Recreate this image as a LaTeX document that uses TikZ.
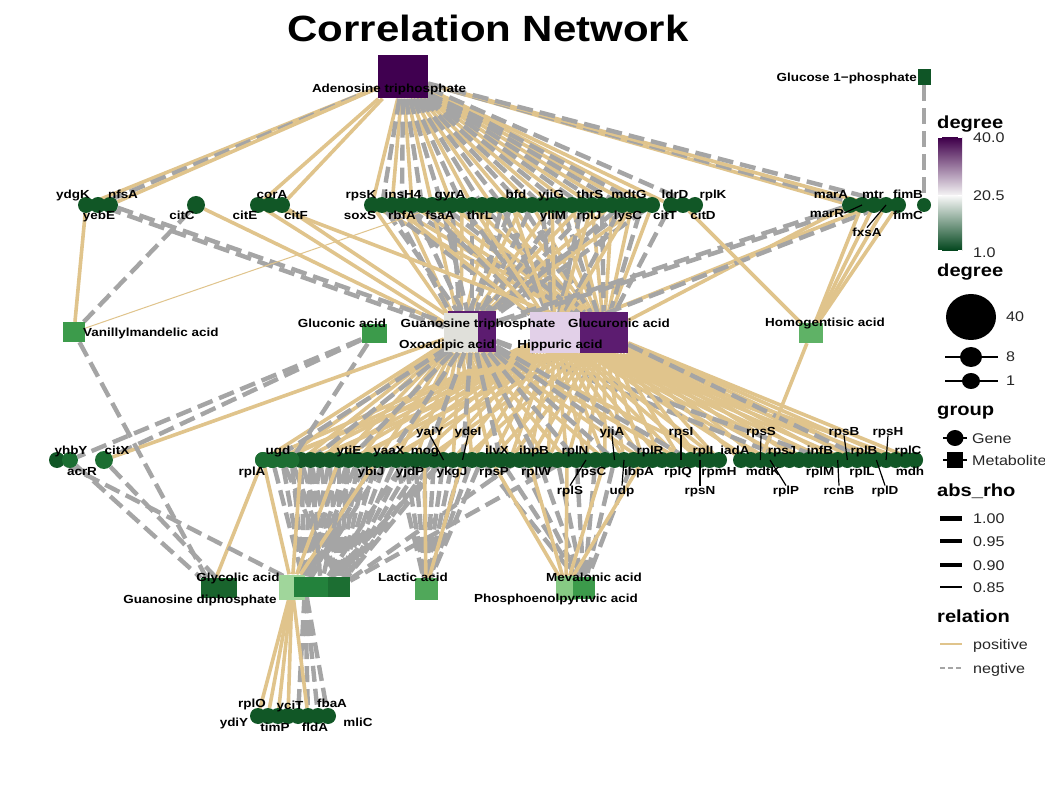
\documentclass[tikz,border=0pt]{standalone}
\usepackage{fontspec}
\setmainfont{Liberation Sans}[FakeStretch=1.15]
\pgfdeclarelayer{bglayer}
\pgfdeclarelayer{edgelayer}
\pgfsetlayers{bglayer,edgelayer,main}
\definecolor{postan}{RGB}{224,196,140}
\definecolor{neggrey}{RGB}{165,165,165}
\definecolor{genegreen}{RGB}{17,87,38}
\definecolor{genegreenb}{RGB}{28,110,50}
\definecolor{atpc}{RGB}{64,0,80}
\definecolor{purp}{RGB}{92,28,112}
\definecolor{gtpc}{RGB}{224,224,218}
\definecolor{hipc}{RGB}{226,208,232}
\definecolor{medgreen}{RGB}{60,155,75}
\definecolor{homc}{RGB}{95,178,102}
\definecolor{lacc}{RGB}{80,168,90}
\definecolor{glyc}{RGB}{25,100,45}
\definecolor{gdpac}{RGB}{160,214,155}
\definecolor{gdpbc}{RGB}{35,130,60}
\definecolor{mevc}{RGB}{135,202,132}
\definecolor{g1pc}{RGB}{15,85,38}
\newcommand\labfont{\fontsize{11.7}{13}\selectfont\bfseries}
\tikzset{
  gene/.style={circle, fill=genegreen, minimum size=16pt, inner sep=0pt},
  met/.style={rectangle, inner sep=0pt},
  lab/.style={font=\labfont, inner sep=0pt, text height=8.5pt, text depth=0pt},
  legtitle/.style={font=\fontsize{17.5}{19}\selectfont\bfseries, inner sep=0pt, anchor=west, text height=12pt, text depth=0pt},
  legtxt/.style={font=\fontsize{14}{16}\selectfont, text=black!85, inner sep=0pt, anchor=west, text height=10pt, text depth=0pt},
  posedge/.style={draw=postan, line width=3.6pt},
  negedge/.style={draw=neggrey, line width=4.4pt, dash pattern=on 16pt off 7pt},
  leader/.style={draw=black, line width=1.2pt},
}
\begin{document}
\begin{tikzpicture}[x=1pt,y=-1pt]
\useasboundingbox (0,0) rectangle (1045,786);
\begin{pgfonlayer}{bglayer}
\fill[white] (0,0) rectangle (1045,786);
\end{pgfonlayer}

% ---------------- metabolites ----------------
\node[met, fill=atpc, minimum width=50pt, minimum height=43pt] (atp) at (403,77) {};
\node[met, fill=g1pc, minimum width=13pt, minimum height=16pt] (g1p) at (924,77) {};
\node[met, fill=medgreen, minimum width=22pt, minimum height=20pt] (van) at (74,332) {};
\node[met, fill=medgreen, minimum width=25pt, minimum height=19pt] (glcn) at (374,334) {};
\node[met, fill=purp, minimum width=48pt, minimum height=41pt] (oxo) at (472,332) {};
\node[met, fill=gtpc, minimum width=34pt, minimum height=39pt] (gtp) at (461,333) {};
\node[met, fill=hipc, minimum width=50pt, minimum height=41pt] (hip) at (555,333) {};
\node[met, fill=purp, minimum width=48pt, minimum height=41pt] (glcu) at (604,333) {};
\node[met, fill=homc, minimum width=24pt, minimum height=20pt] (hom) at (811,333) {};
\node[met, fill=glyc, minimum width=22pt, minimum height=20pt] (gly1) at (212,588) {};
\node[met, fill=glyc, minimum width=22pt, minimum height=20pt] (gly2) at (226,588) {};
\node[met, fill=gdpac, minimum width=26pt, minimum height=25pt] (gdpa) at (292,587) {};
\node[met, fill=gdpbc, minimum width=22pt, minimum height=20pt] (gdpb) at (305,587) {};
\node[met, fill=gdpbc, minimum width=22pt, minimum height=20pt] (gdpc) at (321,587) {};
\node[met, fill=genegreenb, minimum width=22pt, minimum height=20pt] (gdpd) at (339,587) {};
\node[met, fill=lacc, minimum width=23pt, minimum height=22pt] (lac) at (426,589) {};
\node[met, fill=mevc, minimum width=20pt, minimum height=24pt] (mev) at (566,588) {};
\node[met, fill=medgreen, minimum width=22pt, minimum height=22pt] (pep) at (584,588) {};

% ---------------- genes: top row ----------------
\foreach \x [count=\i] in {86,98,110} \node[gene] (ta\i) at (\x,205) {};
\node[gene, minimum size=18pt] (tc) at (196,205) {};
\foreach \x [count=\i] in {258,270,282} \node[gene] (tb\i) at (\x,205) {};
\foreach \i in {1,...,29} \node[gene] (td\i) at ({372+10*(\i-1)},205) {};
\foreach \x [count=\i] in {671,683,695} \node[gene] (te\i) at (\x,205) {};
\foreach \x [count=\i] in {850,862,874,886,898} \node[gene] (tf\i) at (\x,205) {};
\node[gene, minimum size=14pt] (tg) at (924,205) {};

% ---------------- genes: middle row ----------------
\node[gene] (ma0) at (57,460) {};
\node[gene, fill=genegreenb] (ma1) at (70,460) {};
\node[gene, minimum size=18pt, fill=genegreenb] (citx) at (104,460) {};
\foreach \i in {1,...,49} \node[gene] (mb\i) at ({263+9.5*(\i-1)},460) {};
\foreach \i in {1,2,3,4} \node[gene, fill=genegreenb] (mbx\i) at ({263+9.5*(\i-1)},460) {};
\foreach \i in {1,...,19} \node[gene] (mc\i) at ({741+9.67*(\i-1)},460) {};

% ---------------- genes: bottom cluster ----------------
\foreach \i in {1,...,8} \node[gene] (bc\i) at ({258+10*(\i-1)},716) {};

% ---------------- edges ----------------
\begin{pgfonlayer}{edgelayer}
% ATP fan
\foreach \k in {1,3,...,29} \draw[posedge] (atp) -- (td\k);
\foreach \k in {2,4,...,28} \draw[negedge] (atp) -- (td\k);
\draw[posedge] (atp) -- (ta1); \draw[negedge] (atp) -- (ta2); \draw[posedge] (atp) -- (ta3);
\draw[posedge] (atp) -- (tb1); \draw[posedge] (atp) -- (tb3);
\draw[posedge] (atp) -- (te1); \draw[negedge] (atp) -- (te3);
\draw[posedge] (atp) -- (tf1); \draw[negedge] (atp) -- (tf2); \draw[posedge] (atp) -- (tf3); \draw[negedge] (atp) -- (tf5);
\draw[negedge] (g1p) -- (tg);
% top row to middle hubs
\foreach \k in {1,3,...,29} \draw[posedge] (td\k) -- (glcu);
\foreach \k in {4,8,...,28} \draw[negedge] (td\k) -- (glcu);
\foreach \k in {1,4,...,28} \draw[posedge] (td\k) -- (gtp);
\foreach \k in {3,9,...,27} \draw[negedge] (td\k) -- (gtp);
\foreach \k in {2,5,...,29} \draw[negedge] (td\k) -- (oxo);
\foreach \k in {2,6,...,26} \draw[negedge] (td\k) -- (hip);
\foreach \k in {3,7,...,27} \draw[posedge] (td\k) -- (hip);
\draw[posedge] (tb1) -- (gtp); \draw[posedge] (tb3) -- (oxo); \draw[posedge] (tb2) -- (glcu);
\draw[posedge] (tc) -- (gtp); \draw[negedge] (tc) -- (van);
\draw[posedge] (ta1) -- (van); \draw[negedge] (ta3) -- (oxo); \draw[negedge] (ta2) -- (gtp);
\draw[posedge, line width=1pt] (van) -- (td8);
\draw[negedge] (tf1) -- (gtp); \draw[negedge] (tf2) -- (oxo); \draw[posedge] (tf1) -- (glcu);
\draw[posedge] (tf3) -- (hip); \draw[negedge] (tf4) -- (hip);
\foreach \k in {2,3,4,5} \draw[posedge] (tf\k) -- (hom);
\draw[posedge] (te2) -- (hom); \draw[negedge] (te1) -- (glcu);
% middle hubs to middle row
\foreach \k in {1,3,...,19} \draw[posedge] (glcu) -- (mc\k);
\foreach \k in {2,4,...,18} \draw[posedge] (hip) -- (mc\k);
\draw[negedge] (glcu) -- (mc14); \draw[negedge] (oxo) -- (mc6); \draw[negedge] (oxo) -- (mc10);
\foreach \k in {25,27,...,49} \draw[posedge] (glcu) -- (mb\k);
\foreach \k in {2,6,...,22} \draw[posedge] (glcu) -- (mb\k);
\foreach \k in {1,5,...,49} \draw[posedge] (hip) -- (mb\k);
\foreach \k in {3,7,...,47} \draw[posedge] (hip) -- (mb\k);
\foreach \k in {1,3,...,31} \draw[posedge] (gtp) -- (mb\k);
\foreach \k in {33,37,...,49} \draw[posedge] (gtp) -- (mb\k);
\foreach \k in {2,6,...,30} \draw[negedge] (oxo) -- (mb\k);
\foreach \k in {34,38,...,46} \draw[negedge] (oxo) -- (mb\k);
\draw[negedge] (glcn) -- (citx); \draw[negedge] (glcn) -- (ma1); \draw[negedge] (glcn) -- (mb4);
\draw[posedge] (citx) -- (gtp);
\draw[posedge] (hom) -- (mc3);
% middle row to bottom metabolites
\foreach \k in {2,...,14} \draw[negedge] (mb\k) -- (gdpb);
\foreach \k in {3,...,20} \draw[negedge] (mb\k) -- (gdpd);
\foreach \k in {1,5,9,13} \draw[posedge] (mb\k) -- (gdpa);
\foreach \k in {6,10,16,20} \draw[negedge] (mb\k) -- (gdpc);
\draw[negedge] (mb28) -- (gdpd); \draw[negedge] (mb33) -- (gdpd);
\draw[posedge] (mb1) -- (gly1); \draw[negedge] (ma1) -- (gly1); \draw[negedge] (ma0) -- (gdpb);
\draw[negedge] (citx) -- (gly2); \draw[negedge] (van) -- (gly1);
\foreach \k in {15,...,24} \draw[negedge] (mb\k) -- (lac);
\draw[posedge] (mb18) -- (lac); \draw[posedge] (mb22) -- (lac);
\foreach \k in {24,26,...,40} \draw[negedge] (mb\k) -- (pep);
\foreach \k in {25,29,...,41} \draw[posedge] (mb\k) -- (mev);
% GDP to bottom cluster
\foreach \k in {1,...,4} \draw[posedge] (gdpa) -- (bc\k);
\foreach \k in {5,...,8} \draw[negedge] (gdpb) -- (bc\k);
\draw[posedge] (gdpa) -- (bc6);
\end{pgfonlayer}

% ---------------- labels ----------------
\node[font=\fontsize{36.5}{40}\selectfont\bfseries, inner sep=0pt] (title) at (488,28) {Correlation Network};

\node[lab] (latp) at (389,88) {Adenosine triphosphate};
\node[lab, anchor=east] (lg1p) at (917,77) {Glucose 1−phosphate};
\node[lab, anchor=west] (lvan) at (83,332) {Vanillylmandelic acid};
\node[lab] (lglcn) at (342,323) {Gluconic acid};
\node[lab] (lgtp) at (478,323) {Guanosine triphosphate};
\node[lab] (lglcu) at (619,323) {Glucuronic acid};
\node[lab] (loxo) at (447,344) {Oxoadipic acid};
\node[lab] (lhip) at (560,344) {Hippuric acid};
\node[lab] (lhom) at (825,322) {Homogentisic acid};
\node[lab] (lgly) at (238,577) {Glycolic acid};
\node[lab] (lgdp) at (200,599) {Guanosine diphosphate};
\node[lab] (llac) at (413,577) {Lactic acid};
\node[lab] (lmev) at (594,577) {Mevalonic acid};
\node[lab] (lpep) at (556,598) {Phosphoenolpyruvic acid};

\foreach \t/\x [count=\i] in {ydgK/73, nfsA/123, corA/272, rpsK/361, insH4/403, gyrA/450, bfd/516, yjiG/551, thrS/590, mdtG/629, ldrD/675, rplK/713, marA/831, mtr/873, fimB/908}
  \node[lab] (lta\i) at (\x,194) {\t};
\foreach \t/\x [count=\i] in {yebE/99, citC/182, citE/245, citF/296, soxS/360, rbfA/402, fsaA/440, thrL/480, yliM/553, rplJ/589, lysC/628, citT/665, citD/703, fimC/908}
  \node[lab] (ltb\i) at (\x,215) {\t};
\node[lab] (lmarR) at (827,213) {marR};
\node[lab] (lfxsA) at (867,232) {fxsA};

\foreach \t/\x [count=\i] in {yhbY/71, citX/117, ugd/278, ytiE/349, yaaX/389, mog/425, ilvX/497, ibpB/534, rplN/575, rplR/650, rplI/703, iadA/735, rpsJ/782, infB/820, rplB/864, rplC/908}
  \node[lab] (lma\i) at (\x,450) {\t};
\foreach \t/\x [count=\i] in {acrR/82, rplA/252, ybiJ/371, yjdP/410, ykgJ/452, rpsP/494, rplW/536, rpsC/591, ibpA/639, rplQ/678, rpmH/719, mdtK/763, rplM/820, rplL/862, mdh/910}
  \node[lab] (lmb\i) at (\x,471) {\t};
\node[lab] (lyaiY) at (430,431) {yaiY};
\node[lab] (lydeI) at (468,431) {ydeI};
\node[lab] (lyjiA) at (612,431) {yjiA};
\node[lab] (lrpsI) at (681,431) {rpsI};
\node[lab] (lrpsS) at (761,431) {rpsS};
\node[lab] (lrpsB) at (844,431) {rpsB};
\node[lab] (lrpsH) at (888,431) {rpsH};
\node[lab] (lrplS) at (570,490) {rplS};
\node[lab] (ludp) at (622,490) {udp};
\node[lab] (lrpsN) at (700,490) {rpsN};
\node[lab] (lrplP) at (786,490) {rplP};
\node[lab] (lrcnB) at (839,490) {rcnB};
\node[lab] (lrplD) at (885,490) {rplD};

\foreach \t/\x/\y [count=\i] in {rplO/252/703, yciT/290/705, fbaA/332/703, ydiY/234/722, timP/275/727, fldA/315/727, mliC/358/722}
  \node[lab] (lbc\i) at (\x,\y) {\t};

% leaders
\draw[leader] (lyaiY.south) -- (mb20.center);
\draw[leader] (lydeI.south) -- (mb22.center);
\draw[leader] (lyjiA.south) -- (mb38.center);
\draw[leader] (lrpsI.south) -- (mb45.center);
\draw[leader] (lrplS.north) -- (mb35.center);
\draw[leader] (ludp.north) -- (mb39.center);
\draw[leader] (lrpsN.north) -- (mb47.center);
\draw[leader] (lrpsS.south) -- (mc3.center);
\draw[leader] (lrpsB.south) -- (mc12.center);
\draw[leader] (lrpsH.south) -- (mc16.center);
\draw[leader] (lrplP.north) -- (mc4.center);
\draw[leader] (lrcnB.north) -- (mc11.center);
\draw[leader] (lrplD.north) -- (mc15.center);
\draw[leader] (lmarR.east) -- (tf2.center);
\draw[leader] (lfxsA.north) -- (tf4.center);

% ---------------- legend ----------------
\node[legtitle] (lgdeg) at (937,123) {degree};
\shade[top color={rgb,255:red,64;green,0;blue,75}, middle color={rgb,255:red,153;green,112;blue,171}, bottom color={rgb,255:red,247;green,247;blue,247}] (938,138) rectangle (962,196);
\shade[top color={rgb,255:red,247;green,247;blue,247}, middle color={rgb,255:red,90;green,174;blue,97}, bottom color={rgb,255:red,0;green,68;blue,27}] (938,196) rectangle (962,251);
\foreach \yy in {138,196,251} {\draw[white, line width=1pt] (938,\yy) -- (942,\yy); \draw[white, line width=1pt] (958,\yy) -- (962,\yy);}
\node[legtxt] (lg40) at (973,138) {40.0};
\node[legtxt] (lg20) at (973,196) {20.5};
\node[legtxt] (lg1) at (973,253) {1.0};

\node[legtitle] (lgdeg2) at (937,271) {degree};
\fill (971,317) ellipse [x radius=25, y radius=23];
\node[legtxt] (lgs40) at (1006,317) {40};
\draw[line width=1.2pt] (945,357) -- (998,357);
\fill (971,357) ellipse [x radius=11, y radius=10];
\node[legtxt] (lgs8) at (1006,357) {8};
\draw[line width=1.2pt] (945,381) -- (998,381);
\fill (971,381) ellipse [x radius=9, y radius=8];
\node[legtxt] (lgs1) at (1006,381) {1};

\node[legtitle] (lggroup) at (937,410) {group};
\draw[line width=1.2pt] (943,438) -- (967,438);
\fill (955,438) ellipse [x radius=8.5, y radius=8];
\node[legtxt] (lggene) at (972,438) {Gene};
\draw[line width=1.2pt] (943,460) -- (967,460);
\fill (947,452) rectangle (963,468);
\node[legtxt] (lgmet) at (972,460) {Metabolite};

\node[legtitle] (lgrho) at (937,490) {abs\_rho};
\draw[line width=5pt] (940,518) -- (962,518);
\node[legtxt] (lgr1) at (973,518) {1.00};
\draw[line width=4pt] (940,541) -- (962,541);
\node[legtxt] (lgr2) at (973,541) {0.95};
\draw[line width=3.2pt] (940,565) -- (962,565);
\node[legtxt] (lgr3) at (973,565) {0.90};
\draw[line width=2.4pt] (940,587) -- (962,587);
\node[legtxt] (lgr4) at (973,587) {0.85};

\node[legtitle] (lgrel) at (937,616) {relation};
\draw[postan, line width=1.2pt] (940,644) -- (962,644);
\node[legtxt] (lgpos) at (973,644) {positive};
\draw[neggrey, line width=1.2pt, dash pattern=on 5pt off 3pt] (940,668) -- (962,668);
\node[legtxt] (lgneg) at (973,668) {negtive};
\end{tikzpicture}
\end{document}
